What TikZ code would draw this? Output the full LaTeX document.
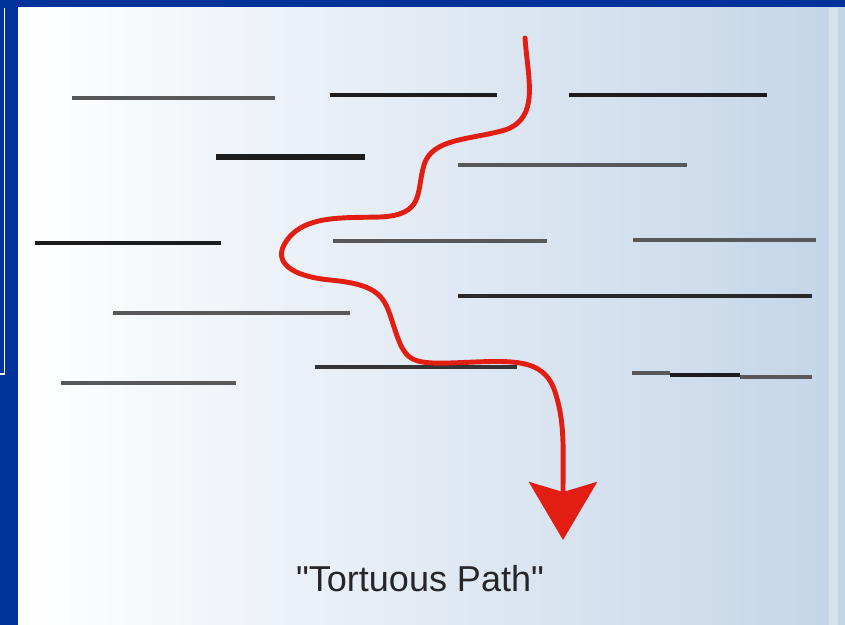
\documentclass[tikz,border=0pt]{standalone}
\usepackage{fontspec}
\setmainfont{Liberation Sans}
\usetikzlibrary{arrows.meta}

\definecolor{frameblue}{RGB}{0,51,153}
\definecolor{panelblue}{RGB}{196,213,232}
\definecolor{pathred}{RGB}{226,30,18}
\definecolor{layergray}{RGB}{88,88,90}
\definecolor{layerdark}{RGB}{28,28,30}
\definecolor{textgray}{RGB}{38,38,40}

\tikzset{
  layer/.style={line width=2.2pt, layergray},
  darklayer/.style={line width=2.2pt, layerdark},
  tortuous/.style={pathred, line width=2.8pt, line cap=round,
    -{Stealth[length=11.6mm, width=13.6mm, inset=2mm]}}
}

\begin{document}
\begin{tikzpicture}[x=0.02cm, y=-0.02cm]

  \useasboundingbox (0,0) rectangle (845,625);

  % -- Frame and shaded panel --
  \fill[frameblue] (0,0) rectangle (845,625);
  \shade[left color=white, right color=panelblue] (18,8) rectangle (845,625);
  \fill[white, opacity=0.3] (829,8) rectangle (838,625);
  \draw[white, line width=0.6pt] (4.5,8) -- (4.5,374) -- (0,374);

  % -- Top row --
  \draw[layer] (72,98) -- (275,98);
  \draw[darklayer] (330,95) -- (497,95);
  \draw[darklayer] (569,95) -- (767,95);

  % -- Second row --
  \draw[darklayer, line width=3.4pt] (216,157) -- (365,157);
  \draw[layer] (458,165) -- (687,165);

  % -- Third row --
  \draw[darklayer] (35,243) -- (221,243);
  \draw[layer] (333,241) -- (547,241);
  \draw[layer] (633,240) -- (816,240);

  % -- Fourth row --
  \draw[layer, layerdark!80!layergray] (458,296) -- (812,296);
  \draw[layer] (113,313) -- (350,313);

  % -- Bottom row --
  \draw[layer, layerdark!60!layergray] (315,367) -- (517,367);
  \draw[layer] (61,383) -- (236,383);
  \draw[layer] (632,373) -- (670,373);
  \draw[darklayer] (670,375) -- (740,375);
  \draw[layer] (740,377) -- (812,377);

  % -- Path winding between the layers --
  \draw[tortuous] (525,38)
    .. controls (528,80) and (540,118) .. (505,130)
    .. controls (470,140) and (432,138) .. (424,165)
    .. controls (416,192) and (425,215) .. (380,217)
    .. controls (340,218) and (300,215) .. (284,245)
    .. controls (275,262) and (290,276) .. (330,280)
    .. controls (385,285) and (385,300) .. (395,330)
    .. controls (405,360) and (410,364) .. (450,363)
    .. controls (510,361) and (545,355) .. (556,395)
    .. controls (565,425) and (563,450) .. (563,540);

  % -- Caption --
  \node[anchor=base, text=textgray, font=\fontsize{20.5}{24}\selectfont] (caption)
    at (420,591) {\textquotedbl Tortuous Path\textquotedbl};

\end{tikzpicture}
\end{document}
